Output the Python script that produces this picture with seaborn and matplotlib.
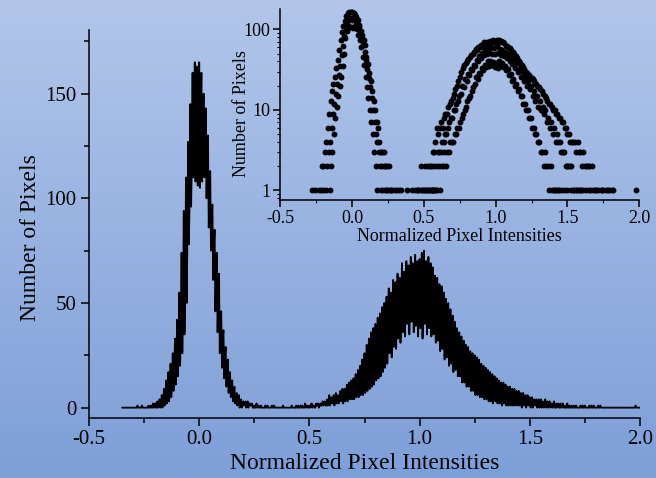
import numpy as np
import pandas as pd
import matplotlib
matplotlib.use("Agg")
import matplotlib.pyplot as plt
from matplotlib.ticker import MultipleLocator, FixedLocator, LogLocator, NullFormatter
import seaborn as sns

# ---- data ----
bin_start = -0.35
bin_width = 0.01
# three neighbouring histogram counts inside each 0.01 step: high, low, middle
counts_hi = [0, 0, 0, 0, 0, 0, 0, 1, 0, 1,
             0, 0, 1, 1, 2, 2, 3, 4, 6, 9,
             13, 17, 21, 26, 33, 42, 55, 74, 94, 110,
             127, 145, 160, 165, 163, 165, 160, 150, 143, 130,
             113, 97, 85, 74, 64, 46, 37, 29, 23, 17,
             13, 10, 7, 6, 4, 3, 3, 3, 2, 2,
             1, 2, 1, 1, 0, 1, 1, 0, 1, 1,
             0, 0, 0, 1, 0, 0, 0, 1, 0, 1,
             1, 1, 0, 2, 1, 1, 2, 1, 2, 2,
             2, 3, 3, 4, 6, 5, 6, 7, 6, 8,
             9, 9, 11, 12, 13, 14, 16, 18, 20, 23,
             26, 30, 33, 36, 38, 40, 43, 45, 48, 50,
             53, 57, 55, 61, 60, 64, 62, 69, 65, 70,
             68, 72, 69, 73, 70, 71, 74, 75, 70, 72,
             69, 67, 63, 62, 59, 58, 55, 52, 50, 47,
             44, 41, 38, 36, 34, 32, 30, 29, 27, 26,
             25, 24, 23, 21, 20, 19, 18, 17, 16, 15,
             14, 13, 12, 12, 11, 10, 10, 9, 9, 8,
             8, 7, 7, 6, 6, 5, 5, 4, 4, 4,
             4, 3, 4, 3, 3, 2, 3, 2, 2, 2,
             2, 1, 2, 1, 1, 1, 1, 0, 1, 1,
             1, 0, 1, 1, 1, 0, 1, 1, 0, 0,
             0, 0, 0, 0, 0, 0, 0, 0, 0, 0,
             0, 0, 0, 1, 0, 0]
counts_lo = [0, 0, 0, 0, 0, 0, 0, 0, 0, 0,
             0, 0, 0, 0, 0, 0, 0, 0, 0, 1,
             2, 3, 5, 8, 11, 15, 20, 26, 35, 50,
             78, 96, 110, 108, 106, 105, 108, 110, 100, 86,
             75, 61, 46, 36, 26, 19, 14, 10, 7, 5,
             3, 2, 1, 0, 0, 1, 0, 0, 1, 0,
             0, 0, 0, 0, 0, 0, 0, 0, 0, 0,
             0, 0, 0, 0, 0, 0, 0, 0, 0, 0,
             0, 0, 0, 0, 0, 0, 0, 0, 1, 0,
             1, 1, 1, 1, 1, 2, 1, 2, 2, 3,
             2, 3, 3, 4, 4, 4, 5, 5, 6, 6,
             7, 8, 9, 10, 11, 13, 14, 15, 17, 19,
             21, 26, 24, 29, 28, 33, 31, 36, 34, 40,
             35, 41, 36, 39, 34, 38, 33, 40, 35, 38,
             34, 35, 31, 32, 27, 28, 23, 24, 20, 21,
             17, 18, 15, 15, 12, 12, 10, 10, 8, 8,
             6, 6, 5, 5, 4, 4, 3, 3, 2, 3,
             2, 2, 1, 2, 1, 1, 1, 1, 1, 1,
             1, 0, 1, 0, 1, 0, 0, 1, 0, 0,
             0, 0, 0, 0, 0, 0, 0, 0, 0, 0,
             0, 0, 0, 0, 0, 0, 0, 0, 0, 0,
             0, 0, 0, 0, 0, 0, 0, 0, 0, 0,
             0, 0, 0, 0, 0, 0, 0, 0, 0, 0,
             0, 0, 0, 0, 0, 0]
counts_mid = [0, 0, 0, 0, 0, 0, 0, 0, 0, 0,
              0, 0, 0, 0, 1, 0, 1, 2, 3, 4,
              6, 9, 12, 16, 21, 27, 35, 48, 62, 82,
              102, 120, 135, 140, 130, 138, 132, 128, 122, 106,
              94, 78, 64, 52, 42, 32, 25, 19, 14, 10,
              7, 5, 4, 3, 2, 2, 1, 2, 1, 0,
              0, 1, 0, 0, 0, 0, 0, 0, 0, 0,
              0, 0, 0, 0, 0, 0, 0, 0, 0, 0,
              0, 1, 0, 1, 0, 1, 1, 0, 1, 1,
              1, 2, 1, 2, 3, 3, 3, 4, 4, 5,
              5, 6, 7, 8, 8, 10, 10, 12, 13, 15,
              16, 20, 19, 24, 23, 28, 27, 32, 31, 36,
              35, 42, 40, 47, 44, 51, 48, 55, 50, 58,
              52, 60, 50, 58, 49, 62, 51, 57, 48, 56,
              47, 53, 44, 49, 40, 46, 37, 43, 33, 38,
              30, 33, 26, 30, 23, 26, 20, 23, 18, 20,
              15, 17, 13, 15, 11, 13, 10, 11, 9, 10,
              7, 8, 6, 7, 5, 6, 4, 5, 4, 4,
              3, 3, 3, 2, 2, 2, 2, 2, 1, 1,
              1, 1, 1, 1, 1, 1, 0, 1, 0, 1,
              0, 0, 0, 0, 0, 0, 0, 0, 0, 0,
              0, 0, 0, 0, 0, 0, 0, 0, 0, 0,
              0, 0, 0, 0, 0, 0, 0, 0, 0, 0,
              0, 0, 0, 0, 0, 0]
x_ticks = [-0.5, 0.0, 0.5, 1.0, 1.5, 2.0]
x_ticklabels = ["-0.5", "0.0", "0.5", "1.0", "1.5", "2.0"]
y_ticks = [0, 50, 100, 150]
inset_y_ticks = [1, 10, 100]
inset_y_ticklabels = ["1", "10", "100"]
xlabel = "Normalized Pixel Intensities"
ylabel = "Number of Pixels"

# ---- build table ----
n = len(counts_hi)
xb = bin_start + bin_width * np.arange(n)
rows = []
for i in range(n):
    rows.append((xb[i], counts_hi[i]))
    rows.append((xb[i] + bin_width / 3, counts_lo[i]))
    rows.append((xb[i] + 2 * bin_width / 3, counts_mid[i]))
df = pd.DataFrame(rows, columns=["x", "count"])
df_pos = df[df["count"] > 0]

sns.set_theme(style="ticks")
plt.rcParams["font.family"] = ["Liberation Serif", "DejaVu Serif"]
plt.rcParams["path.simplify"] = False

W, H = 656, 478
fig = plt.figure(figsize=(W / 100, H / 100), dpi=100)

# gradient background
bg = fig.add_axes([0, 0, 1, 1], zorder=-10)
top = np.array([178, 198, 234]) / 255
bot = np.array([125, 159, 216]) / 255
t = np.linspace(0, 1, 256)[:, None]
grad = (top[None, :] * (1 - t) + bot[None, :] * t)[:, None, :]
bg.imshow(grad, aspect="auto", extent=[0, 1, 0, 1])
bg.set_axis_off()

spine_w = 1.1
# ---- main axes ----
ax = fig.add_axes([89 / W, 1 - 417.7 / H, (640 - 89) / W, (417.7 - 30) / H])
ax.set_facecolor("none")
sns.lineplot(data=df, x="x", y="count", ax=ax, color="black", linewidth=1.3,
             sort=False, estimator=None)
ax.set_xlim(-0.5, 2.0)
ax.set_ylim(-4.8, 180.4)
ax.set_xticks(x_ticks)
ax.set_xticklabels(x_ticklabels)
ax.set_yticks(y_ticks)
ax.xaxis.set_minor_locator(MultipleLocator(0.25))
ax.yaxis.set_minor_locator(MultipleLocator(25))
for s in ["top", "right"]:
    ax.spines[s].set_visible(False)
for s in ["left", "bottom"]:
    ax.spines[s].set_linewidth(spine_w)
    ax.spines[s].set_color("black")
ax.tick_params(which="major", direction="out", length=6, width=spine_w,
               colors="black", labelsize=15, pad=3)
ax.tick_params(which="minor", direction="out", length=3.5, width=spine_w, colors="black")
ax.set_xlabel(xlabel, fontsize=17, color="black", labelpad=3)
ax.set_ylabel(ylabel, fontsize=17, color="black")
ax.yaxis.set_label_coords(-0.087, 0.4635)

# ---- inset ----
axi = fig.add_axes([280.3 / W, 1 - 200 / H, (639.3 - 280.3) / W, (200 - 9.3) / H])
axi.set_facecolor("none")
sns.scatterplot(data=df_pos, x="x", y="count", ax=axi, color="black", s=18,
                edgecolor="black", linewidth=0)
axi.set_yscale("log")
axi.set_xlim(-0.5, 2.0)
axi.set_ylim(0.76, 178)
axi.set_xticks(x_ticks)
axi.set_xticklabels(x_ticklabels)
axi.xaxis.set_minor_locator(MultipleLocator(0.25))
axi.yaxis.set_major_locator(FixedLocator(inset_y_ticks))
axi.set_yticklabels(inset_y_ticklabels)
axi.yaxis.set_minor_locator(LogLocator(base=10, subs=np.arange(2, 10)))
axi.yaxis.set_minor_formatter(NullFormatter())
for s in ["top", "right"]:
    axi.spines[s].set_visible(False)
for s in ["left", "bottom"]:
    axi.spines[s].set_linewidth(spine_w)
    axi.spines[s].set_color("black")
axi.tick_params(which="major", direction="out", length=5, width=spine_w,
                colors="black", labelsize=13, pad=2)
axi.tick_params(which="minor", direction="out", length=2.5, width=0.8, colors="black")
axi.set_xlabel(xlabel, fontsize=13, color="black", labelpad=1)
axi.set_ylabel(ylabel, fontsize=13, color="black")
axi.yaxis.set_label_coords(-0.085, 0.451)

fig.savefig("out.png", dpi=100)
